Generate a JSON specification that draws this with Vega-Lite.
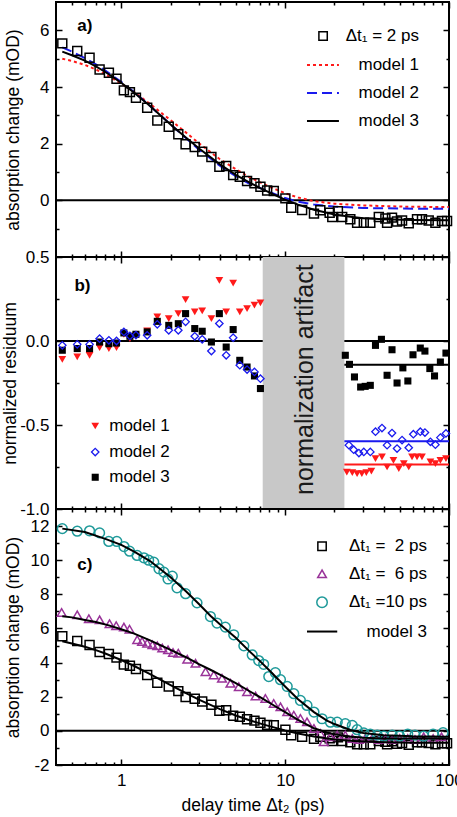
{
  "$schema": "https://vega.github.io/schema/vega-lite/v6.json",
  "padding": {"left": 0, "top": 0, "right": 0, "bottom": 0},
  "spacing": 0,
  "bounds": "flush",
  "config": {
    "font": "Liberation Sans",
    "view": {"stroke": "black", "strokeWidth": 2},
    "axis": {"domain": false, "grid": false, "tickColor": "black", "tickWidth": 1.5, "labelFont": "Liberation Sans", "labelFontSize": 17, "labelColor": "black", "titleFont": "Liberation Sans", "titleFontSize": 17.5, "titleFontWeight": "normal", "titleColor": "black"},
    "text": {"font": "Liberation Sans", "fontSize": 17, "color": "black", "baseline": "middle"}
  },
  "datasets": {
    "a2": [
      {"t":0.437,"v":5.54},{"t":0.539,"v":5.27},{"t":0.641,"v":5.03},{"t":0.738,"v":4.62},{"t":0.841,"v":4.5},{"t":0.936,"v":4.29},{"t":1.038,"v":3.88},{"t":1.13,"v":3.82},{"t":1.23,"v":3.62},{"t":1.44,"v":3.27},{"t":1.66,"v":2.82},{"t":1.95,"v":2.6},{"t":2.23,"v":2.33},{"t":2.47,"v":1.98},{"t":2.81,"v":1.88},{"t":3.12,"v":1.72},{"t":3.55,"v":1.53},{"t":3.97,"v":1.18},{"t":4.37,"v":1.21},{"t":4.82,"v":0.89},{"t":5.29,"v":0.83},{"t":5.86,"v":0.68},{"t":6.5,"v":0.6},{"t":7.07,"v":0.48},{"t":7.77,"v":0.35},{"t":8.53,"v":0.33},{"t":10.04,"v":0.07},{"t":10.9,"v":-0.26},{"t":12.7,"v":-0.34},{"t":15.0,"v":-0.47},{"t":16.4,"v":-0.35},{"t":18.7,"v":-0.44},{"t":19.4,"v":-0.59},{"t":21.0,"v":-0.38},{"t":22.3,"v":-0.59},{"t":25.0,"v":-0.67},{"t":27.5,"v":-0.79},{"t":30.2,"v":-0.79},{"t":33.1,"v":-0.79},{"t":37.3,"v":-0.59},{"t":40.9,"v":-0.64},{"t":41.9,"v":-0.79},{"t":44.9,"v":-0.61},{"t":48.2,"v":-0.75},{"t":51.7,"v":-0.71},{"t":56.8,"v":-0.81},{"t":63.8,"v":-0.67},{"t":68.4,"v":-0.67},{"t":75.2,"v":-0.71},{"t":82.6,"v":-0.79},{"t":90.6,"v":-0.73},{"t":97.3,"v":-0.73}
    ],
    "ma": [
      {"s":"model 1","t":0.437,"v":5.0},{"s":"model 1","t":0.5,"v":4.92},{"s":"model 1","t":0.6,"v":4.78},{"s":"model 1","t":0.7,"v":4.62},{"s":"model 1","t":0.8,"v":4.45},{"s":"model 1","t":1.0,"v":4.12},{"s":"model 1","t":1.2,"v":3.82},{"s":"model 1","t":1.5,"v":3.4},{"s":"model 1","t":2.0,"v":2.83},{"s":"model 1","t":2.5,"v":2.38},{"s":"model 1","t":3.0,"v":2.0},{"s":"model 1","t":4.0,"v":1.45},{"s":"model 1","t":5.0,"v":1.1},{"s":"model 1","t":6.0,"v":0.83},{"s":"model 1","t":8.0,"v":0.48},{"s":"model 1","t":10,"v":0.25},{"s":"model 1","t":12,"v":0.1},{"s":"model 1","t":15,"v":-0.03},{"s":"model 1","t":20,"v":-0.12},{"s":"model 1","t":30,"v":-0.18},{"s":"model 1","t":50,"v":-0.22},{"s":"model 1","t":100,"v":-0.24},
      {"s":"model 2","t":0.437,"v":5.4},{"s":"model 2","t":0.5,"v":5.25},{"s":"model 2","t":0.6,"v":5.02},{"s":"model 2","t":0.7,"v":4.8},{"s":"model 2","t":0.8,"v":4.58},{"s":"model 2","t":1.0,"v":4.18},{"s":"model 2","t":1.2,"v":3.82},{"s":"model 2","t":1.5,"v":3.33},{"s":"model 2","t":2.0,"v":2.68},{"s":"model 2","t":2.5,"v":2.18},{"s":"model 2","t":3.0,"v":1.78},{"s":"model 2","t":4.0,"v":1.22},{"s":"model 2","t":5.0,"v":0.85},{"s":"model 2","t":6.0,"v":0.6},{"s":"model 2","t":8.0,"v":0.3},{"s":"model 2","t":10,"v":0.08},{"s":"model 2","t":12,"v":-0.05},{"s":"model 2","t":15,"v":-0.15},{"s":"model 2","t":20,"v":-0.22},{"s":"model 2","t":30,"v":-0.27},{"s":"model 2","t":50,"v":-0.29},{"s":"model 2","t":100,"v":-0.3},
      {"s":"model 3","t":0.437,"v":5.25},{"s":"model 3","t":0.5,"v":5.12},{"s":"model 3","t":0.6,"v":4.93},{"s":"model 3","t":0.7,"v":4.73},{"s":"model 3","t":0.8,"v":4.53},{"s":"model 3","t":0.9,"v":4.33},{"s":"model 3","t":1.0,"v":4.15},{"s":"model 3","t":1.2,"v":3.8},{"s":"model 3","t":1.5,"v":3.33},{"s":"model 3","t":2.0,"v":2.68},{"s":"model 3","t":2.5,"v":2.2},{"s":"model 3","t":3.0,"v":1.82},{"s":"model 3","t":4.0,"v":1.27},{"s":"model 3","t":5.0,"v":0.9},{"s":"model 3","t":6.0,"v":0.64},{"s":"model 3","t":7.0,"v":0.44},{"s":"model 3","t":8.0,"v":0.28},{"s":"model 3","t":10,"v":0.02},{"s":"model 3","t":12,"v":-0.15},{"s":"model 3","t":15,"v":-0.33},{"s":"model 3","t":20,"v":-0.5},{"s":"model 3","t":25,"v":-0.58},{"s":"model 3","t":30,"v":-0.63},{"s":"model 3","t":40,"v":-0.67},{"s":"model 3","t":60,"v":-0.69},{"s":"model 3","t":100,"v":-0.7}
    ],
    "res": [
      {"s":"model 1","t":0.437,"v":-0.109},{"s":"model 1","t":0.539,"v":-0.095},{"s":"model 1","t":0.641,"v":-0.085},{"s":"model 1","t":0.738,"v":-0.039},{"s":"model 1","t":0.841,"v":-0.045},{"s":"model 1","t":0.936,"v":-0.039},{"s":"model 1","t":1.038,"v":0.04},{"s":"model 1","t":1.13,"v":0.014},{"s":"model 1","t":1.23,"v":0.03},{"s":"model 1","t":1.44,"v":0.06},{"s":"model 1","t":1.66,"v":0.143},{"s":"model 1","t":1.95,"v":0.133},{"s":"model 1","t":2.23,"v":0.163},{"s":"model 1","t":2.47,"v":0.246},{"s":"model 1","t":2.81,"v":0.173},{"s":"model 1","t":3.12,"v":0.179},{"s":"model 1","t":3.55,"v":0.133},{"s":"model 1","t":3.97,"v":0.361},{"s":"model 1","t":4.37,"v":0.173},{"s":"model 1","t":4.82,"v":0.345},{"s":"model 1","t":5.29,"v":0.173},{"s":"model 1","t":5.86,"v":0.193},{"s":"model 1","t":6.5,"v":0.213},{"s":"model 1","t":7.07,"v":0.227},
      {"s":"model 1","t":23.8,"v":-0.78},{"s":"model 1","t":25.7,"v":-0.784},{"s":"model 1","t":27.5,"v":-0.79},{"s":"model 1","t":29.4,"v":-0.79},{"s":"model 1","t":31.3,"v":-0.784},{"s":"model 1","t":33.6,"v":-0.774},{"s":"model 1","t":35.6,"v":-0.7},{"s":"model 1","t":39.0,"v":-0.69},{"s":"model 1","t":41.9,"v":-0.75},{"s":"model 1","t":45.8,"v":-0.71},{"s":"model 1","t":49.4,"v":-0.76},{"s":"model 1","t":53.0,"v":-0.73},{"s":"model 1","t":56.8,"v":-0.75},{"s":"model 1","t":59.5,"v":-0.69},{"s":"model 1","t":63.8,"v":-0.69},{"s":"model 1","t":68.4,"v":-0.69},{"s":"model 1","t":77.0,"v":-0.72},{"s":"model 1","t":82.6,"v":-0.73},{"s":"model 1","t":88.6,"v":-0.71},{"s":"model 1","t":95.8,"v":-0.7},
      {"s":"model 2","t":0.437,"v":-0.026},{"s":"model 2","t":0.539,"v":-0.02},{"s":"model 2","t":0.641,"v":-0.02},{"s":"model 2","t":0.738,"v":0.014},{"s":"model 2","t":0.841,"v":0.004},{"s":"model 2","t":0.936,"v":0.0},{"s":"model 2","t":1.038,"v":0.054},{"s":"model 2","t":1.13,"v":0.03},{"s":"model 2","t":1.23,"v":0.035},{"s":"model 2","t":1.44,"v":0.034},{"s":"model 2","t":1.66,"v":0.099},{"s":"model 2","t":1.95,"v":0.064},{"s":"model 2","t":2.23,"v":0.064},{"s":"model 2","t":2.47,"v":0.114},{"s":"model 2","t":2.81,"v":0.028},{"s":"model 2","t":3.12,"v":0.01},{"s":"model 2","t":3.55,"v":-0.06},{"s":"model 2","t":3.97,"v":0.104},{"s":"model 2","t":4.37,"v":-0.085},{"s":"model 2","t":4.82,"v":0.02},{"s":"model 2","t":5.29,"v":-0.144},{"s":"model 2","t":5.86,"v":-0.17},{"s":"model 2","t":6.5,"v":-0.184},{"s":"model 2","t":7.07,"v":-0.224},
      {"s":"model 2","t":24.5,"v":-0.62},{"s":"model 2","t":26.2,"v":-0.647},{"s":"model 2","t":28.2,"v":-0.667},{"s":"model 2","t":30.2,"v":-0.66},{"s":"model 2","t":33.1,"v":-0.66},{"s":"model 2","t":35.6,"v":-0.54},{"s":"model 2","t":39.0,"v":-0.518},{"s":"model 2","t":41.9,"v":-0.62},{"s":"model 2","t":44.9,"v":-0.548},{"s":"model 2","t":48.2,"v":-0.64},{"s":"model 2","t":51.7,"v":-0.59},{"s":"model 2","t":56.8,"v":-0.635},{"s":"model 2","t":60.6,"v":-0.555},{"s":"model 2","t":66.8,"v":-0.54},{"s":"model 2","t":71.3,"v":-0.545},{"s":"model 2","t":77.0,"v":-0.6},{"s":"model 2","t":82.6,"v":-0.617},{"s":"model 2","t":88.6,"v":-0.575},{"s":"model 2","t":95.8,"v":-0.55},
      {"s":"model 3","t":0.437,"v":-0.055},{"s":"model 3","t":0.539,"v":-0.045},{"s":"model 3","t":0.641,"v":-0.045},{"s":"model 3","t":0.738,"v":-0.006},{"s":"model 3","t":0.841,"v":-0.016},{"s":"model 3","t":0.936,"v":-0.012},{"s":"model 3","t":1.038,"v":0.048},{"s":"model 3","t":1.13,"v":0.028},{"s":"model 3","t":1.23,"v":0.04},{"s":"model 3","t":1.44,"v":0.054},{"s":"model 3","t":1.66,"v":0.117},{"s":"model 3","t":1.95,"v":0.093},{"s":"model 3","t":2.23,"v":0.103},{"s":"model 3","t":2.47,"v":0.163},{"s":"model 3","t":2.81,"v":0.074},{"s":"model 3","t":3.12,"v":0.058},{"s":"model 3","t":3.55,"v":-0.006},{"s":"model 3","t":3.97,"v":0.163},{"s":"model 3","t":4.37,"v":-0.036},{"s":"model 3","t":4.82,"v":0.068},{"s":"model 3","t":5.29,"v":-0.115},{"s":"model 3","t":5.86,"v":-0.155},{"s":"model 3","t":6.5,"v":-0.208},{"s":"model 3","t":7.07,"v":-0.283},
      {"s":"model 3","t":23.3,"v":-0.085},{"s":"model 3","t":24.7,"v":-0.139},{"s":"model 3","t":26.5,"v":-0.214},{"s":"model 3","t":28.9,"v":-0.274},{"s":"model 3","t":30.8,"v":-0.27},{"s":"model 3","t":33.1,"v":-0.264},{"s":"model 3","t":35.6,"v":-0.026},{"s":"model 3","t":38.7,"v":0.01},{"s":"model 3","t":41.9,"v":-0.204},{"s":"model 3","t":44.9,"v":-0.052},{"s":"model 3","t":48.2,"v":-0.25},{"s":"model 3","t":52.3,"v":-0.16},{"s":"model 3","t":56.1,"v":-0.238},{"s":"model 3","t":60.3,"v":-0.082},{"s":"model 3","t":66.8,"v":-0.042},{"s":"model 3","t":71.3,"v":-0.06},{"s":"model 3","t":76.4,"v":-0.164},{"s":"model 3","t":81.6,"v":-0.208},{"s":"model 3","t":88.6,"v":-0.125},{"s":"model 3","t":95.8,"v":-0.072}
    ],
    "c6": [
      {"t":0.433,"v":6.94},{"t":0.539,"v":6.8},{"t":0.635,"v":6.57},{"t":0.738,"v":6.51},{"t":0.849,"v":6.28},{"t":0.932,"v":6.16},{"t":1.038,"v":6.08},{"t":1.124,"v":5.96},{"t":1.252,"v":5.34},{"t":1.34,"v":5.24},{"t":1.44,"v":5.14},{"t":1.55,"v":5.04},{"t":1.66,"v":4.98},{"t":1.78,"v":4.85},{"t":1.93,"v":4.75},{"t":2.07,"v":4.59},{"t":2.23,"v":4.55},{"t":2.53,"v":4.2},{"t":2.84,"v":3.96},{"t":3.27,"v":3.47},{"t":3.67,"v":3.28},{"t":4.12,"v":3.08},{"t":4.64,"v":2.79},{"t":5.22,"v":2.59},{"t":5.86,"v":2.29},{"t":6.6,"v":2.04},{"t":7.58,"v":1.9},{"t":8.52,"v":1.61},{"t":9.37,"v":1.41},{"t":10.3,"v":1.12},{"t":11.3,"v":0.92},{"t":12.4,"v":0.73},{"t":13.6,"v":0.53},{"t":15.0,"v":0.14},{"t":16.4,"v":-0.15},{"t":17.2,"v":-0.64},{"t":18.9,"v":-0.35},{"t":20.8,"v":-0.25},{"t":23.3,"v":-0.25},{"t":25.7,"v":-0.45},{"t":28.2,"v":-0.51},{"t":30.8,"v":-0.45},{"t":33.9,"v":-0.45},{"t":37.3,"v":-0.51},{"t":41.0,"v":-0.45},{"t":45.0,"v":-0.51},{"t":50.0,"v":-0.45},{"t":56.0,"v":-0.45},{"t":62.0,"v":-0.51},{"t":70.0,"v":-0.35},{"t":80.0,"v":-0.45},{"t":90.0,"v":-0.35}
    ],
    "c10": [
      {"t":0.437,"v":11.85},{"t":0.539,"v":11.7},{"t":0.641,"v":11.72},{"t":0.738,"v":11.6},{"t":0.84,"v":11.1},{"t":0.94,"v":11.1},{"t":1.04,"v":10.8},{"t":1.124,"v":10.53},{"t":1.25,"v":10.28},{"t":1.375,"v":10.14},{"t":1.47,"v":10.0},{"t":1.58,"v":9.88},{"t":1.7,"v":9.5},{"t":1.82,"v":9.3},{"t":1.93,"v":8.9},{"t":2.05,"v":9.06},{"t":2.19,"v":8.38},{"t":2.47,"v":8.04},{"t":2.9,"v":7.5},{"t":3.5,"v":6.7},{"t":3.84,"v":6.32},{"t":4.32,"v":6.08},{"t":4.86,"v":5.63},{"t":5.6,"v":4.98},{"t":6.3,"v":4.45},{"t":6.9,"v":4.12},{"t":7.4,"v":3.9},{"t":7.95,"v":3.18},{"t":8.72,"v":3.41},{"t":9.37,"v":3.0},{"t":10.3,"v":2.6},{"t":11.3,"v":2.18},{"t":12.4,"v":1.78},{"t":13.6,"v":1.49},{"t":15.0,"v":1.1},{"t":16.8,"v":0.71},{"t":18.9,"v":0.51},{"t":20.8,"v":0.51},{"t":23.3,"v":0.42},{"t":25.7,"v":0.32},{"t":27.5,"v":0.07},{"t":30.2,"v":-0.12},{"t":33.1,"v":-0.19},{"t":36.5,"v":-0.25},{"t":40.0,"v":-0.31},{"t":45.0,"v":-0.25},{"t":50.0,"v":-0.31},{"t":56.0,"v":-0.19},{"t":62.0,"v":-0.25},{"t":70.0,"v":-0.31},{"t":80.0,"v":-0.19},{"t":92.0,"v":-0.11}
    ],
    "mc": [
      {"c":"2","t":0.437,"v":5.25},{"c":"2","t":0.5,"v":5.12},{"c":"2","t":0.6,"v":4.93},{"c":"2","t":0.7,"v":4.73},{"c":"2","t":0.8,"v":4.53},{"c":"2","t":0.9,"v":4.33},{"c":"2","t":1.0,"v":4.15},{"c":"2","t":1.2,"v":3.8},{"c":"2","t":1.5,"v":3.33},{"c":"2","t":2.0,"v":2.68},{"c":"2","t":2.5,"v":2.2},{"c":"2","t":3.0,"v":1.82},{"c":"2","t":4.0,"v":1.27},{"c":"2","t":5.0,"v":0.9},{"c":"2","t":6.0,"v":0.64},{"c":"2","t":7.0,"v":0.44},{"c":"2","t":8.0,"v":0.28},{"c":"2","t":10,"v":0.02},{"c":"2","t":12,"v":-0.15},{"c":"2","t":15,"v":-0.33},{"c":"2","t":20,"v":-0.5},{"c":"2","t":25,"v":-0.58},{"c":"2","t":30,"v":-0.63},{"c":"2","t":40,"v":-0.67},{"c":"2","t":60,"v":-0.69},{"c":"2","t":100,"v":-0.7},
      {"c":"6","t":0.437,"v":6.72},{"c":"6","t":0.5,"v":6.65},{"c":"6","t":0.6,"v":6.5},{"c":"6","t":0.7,"v":6.38},{"c":"6","t":0.84,"v":6.18},{"c":"6","t":1.0,"v":5.95},{"c":"6","t":1.2,"v":5.7},{"c":"6","t":1.5,"v":5.3},{"c":"6","t":2.0,"v":4.75},{"c":"6","t":2.5,"v":4.3},{"c":"6","t":3.0,"v":3.9},{"c":"6","t":3.5,"v":3.58},{"c":"6","t":4.0,"v":3.3},{"c":"6","t":5.0,"v":2.8},{"c":"6","t":6.0,"v":2.35},{"c":"6","t":7.25,"v":1.9},{"c":"6","t":8.5,"v":1.5},{"c":"6","t":10,"v":1.1},{"c":"6","t":12,"v":0.65},{"c":"6","t":15,"v":0.15},{"c":"6","t":18,"v":-0.1},{"c":"6","t":20,"v":-0.2},{"c":"6","t":25,"v":-0.33},{"c":"6","t":30,"v":-0.4},{"c":"6","t":40,"v":-0.44},{"c":"6","t":60,"v":-0.45},{"c":"6","t":100,"v":-0.45},
      {"c":"10","t":0.437,"v":11.85},{"c":"10","t":0.6,"v":11.65},{"c":"10","t":0.8,"v":11.25},{"c":"10","t":1.0,"v":10.9},{"c":"10","t":1.2,"v":10.5},{"c":"10","t":1.5,"v":9.95},{"c":"10","t":2.0,"v":9.0},{"c":"10","t":2.5,"v":8.15},{"c":"10","t":3.0,"v":7.4},{"c":"10","t":3.5,"v":6.75},{"c":"10","t":4.0,"v":6.25},{"c":"10","t":5.0,"v":5.45},{"c":"10","t":6.0,"v":4.7},{"c":"10","t":7.0,"v":4.1},{"c":"10","t":8.0,"v":3.55},{"c":"10","t":10,"v":2.6},{"c":"10","t":12,"v":1.85},{"c":"10","t":15,"v":1.1},{"c":"10","t":18,"v":0.6},{"c":"10","t":20,"v":0.4},{"c":"10","t":25,"v":0.05},{"c":"10","t":30,"v":-0.12},{"c":"10","t":40,"v":-0.25},{"c":"10","t":60,"v":-0.32},{"c":"10","t":100,"v":-0.35}
    ]
  },
  "vconcat": [
    {
      "width": 393, "height": 255,
      "data": {"values": [{}]},
      "resolve": {"axis": {"x": "independent", "y": "independent"}},
      "layer": [
        {"mark": {"type": "rule", "color": "black", "strokeWidth": 2},
         "encoding": {
           "x": {"datum": 0.4, "type": "quantitative", "scale": {"type": "log", "domain": [0.4, 100], "nice": false},
                 "axis": {"orient": "bottom", "values": [0.5,0.6,0.7,0.8,0.9,2,3,4,5,6,7,8,9,20,30,40,50,60,70,80,90], "tickSize": -3, "labels": false, "title": null}},
           "x2": {"datum": 100},
           "y": {"datum": 0, "type": "quantitative", "scale": {"domain": [-2, 7], "nice": false},
                 "axis": {"orient": "right", "values": [-1,1,3,5], "tickSize": -3, "labels": false, "title": null}}}},
        {"data": {"name": "ma"}, "transform": [{"filter": "datum.s == 'model 1'"}],
         "mark": {"type": "line", "strokeWidth": 2, "color": "#ff1a1a", "strokeDash": [3, 3]},
         "encoding": {
           "x": {"field": "t", "type": "quantitative", "scale": {"type": "log", "domain": [0.4, 100], "nice": false},
                 "axis": {"orient": "top", "values": [1,10,100], "tickSize": -6, "labels": false, "title": null}},
           "y": {"field": "v", "type": "quantitative", "scale": {"domain": [-2, 7], "nice": false},
                 "axis": {"orient": "right", "values": [0,2,4,6], "tickSize": -6, "labels": false, "title": null}}}},
        {"data": {"name": "ma"}, "transform": [{"filter": "datum.s == 'model 2'"}],
         "mark": {"type": "line", "strokeWidth": 2, "color": "#1a1aee", "strokeDash": [10, 5]},
         "encoding": {
           "x": {"field": "t", "type": "quantitative", "scale": {"type": "log", "domain": [0.4, 100], "nice": false}, "axis": null},
           "y": {"field": "v", "type": "quantitative", "scale": {"domain": [-2, 7], "nice": false}, "axis": null}}},
        {"data": {"name": "ma"}, "transform": [{"filter": "datum.s == 'model 3'"}],
         "mark": {"type": "line", "strokeWidth": 2, "color": "black"},
         "encoding": {
           "x": {"field": "t", "type": "quantitative", "scale": {"type": "log", "domain": [0.4, 100], "nice": false}, "axis": null},
           "y": {"field": "v", "type": "quantitative", "scale": {"domain": [-2, 7], "nice": false}, "axis": null}}},
        {"data": {"name": "a2"},
         "mark": {"type": "point", "shape": "square", "size": 80, "filled": false, "strokeWidth": 1.5, "opacity": 1, "color": "black"},
         "encoding": {
           "x": {"field": "t", "type": "quantitative", "scale": {"type": "log", "domain": [0.4, 100], "nice": false},
                 "axis": {"orient": "bottom", "values": [1,10,100], "tickSize": -6, "labels": false, "title": null}},
           "y": {"field": "v", "type": "quantitative", "scale": {"domain": [-2, 7], "nice": false},
                 "axis": {"orient": "left", "values": [0,2,4,6], "tickSize": -6, "labelPadding": 13, "title": "absorption change (mOD)", "titlePadding": 17}}}},
        {"mark": {"type": "text", "fontWeight": "bold", "align": "center"},
         "encoding": {
           "x": {"datum": 0.6, "type": "quantitative", "axis": null},
           "y": {"datum": 6.15, "type": "quantitative", "axis": null},
           "text": {"value": "a)"}}},
        {"mark": {"type": "point", "shape": "square", "size": 70, "filled": false, "strokeWidth": 1.5, "opacity": 1, "color": "black"},
         "encoding": {
           "x": {"datum": 17.05, "type": "quantitative", "scale": {"type": "log", "domain": [0.4, 100], "nice": false},
                 "axis": {"orient": "top", "values": [0.5,0.6,0.7,0.8,0.9,2,3,4,5,6,7,8,9,20,30,40,50,60,70,80,90], "tickSize": -3, "labels": false, "title": null}},
           "y": {"datum": 5.8, "type": "quantitative", "scale": {"domain": [-2, 7], "nice": false},
                 "axis": {"orient": "left", "values": [-1,1,3,5], "tickSize": -3, "labels": false, "title": null}}}},
        {"mark": {"type": "rule", "strokeWidth": 2, "color": "#ff1a1a", "strokeDash": [3, 3]},
         "encoding": {"x": {"datum": 13.6, "type": "quantitative", "axis": null}, "x2": {"datum": 21.3}, "y": {"datum": 4.776, "type": "quantitative", "axis": null}}},
        {"mark": {"type": "rule", "strokeWidth": 2, "color": "#1a1aee", "strokeDash": [10, 5]},
         "encoding": {"x": {"datum": 13.6, "type": "quantitative", "axis": null}, "x2": {"datum": 21.3}, "y": {"datum": 3.79, "type": "quantitative", "axis": null}}},
        {"mark": {"type": "rule", "strokeWidth": 2, "color": "black"},
         "encoding": {"x": {"datum": 13.6, "type": "quantitative", "axis": null}, "x2": {"datum": 21.3}, "y": {"datum": 2.8, "type": "quantitative", "axis": null}}},
        {"mark": {"type": "text", "align": "right"},
         "encoding": {"x": {"datum": 65.6, "type": "quantitative", "axis": null}, "y": {"datum": 5.8, "type": "quantitative", "axis": null}, "text": {"value": "Δt₁ = 2 ps"}}},
        {"mark": {"type": "text", "align": "right"},
         "encoding": {"x": {"datum": 65.6, "type": "quantitative", "axis": null}, "y": {"datum": 4.776, "type": "quantitative", "axis": null}, "text": {"value": "model 1"}}},
        {"mark": {"type": "text", "align": "right"},
         "encoding": {"x": {"datum": 65.6, "type": "quantitative", "axis": null}, "y": {"datum": 3.79, "type": "quantitative", "axis": null}, "text": {"value": "model 2"}}},
        {"mark": {"type": "text", "align": "right"},
         "encoding": {"x": {"datum": 65.6, "type": "quantitative", "axis": null}, "y": {"datum": 2.8, "type": "quantitative", "axis": null}, "text": {"value": "model 3"}}}
      ]
    },
    {
      "width": 393, "height": 252,
      "data": {"values": [{}]},
      "resolve": {"axis": {"x": "independent", "y": "independent"}},
      "layer": [
        {"mark": {"type": "rule", "color": "black", "strokeWidth": 2},
         "encoding": {
           "x": {"datum": 0.4, "type": "quantitative", "scale": {"type": "log", "domain": [0.4, 100], "nice": false},
                 "axis": {"orient": "bottom", "values": [0.5,0.6,0.7,0.8,0.9,2,3,4,5,6,7,8,9,20,30,40,50,60,70,80,90], "tickSize": -3, "labels": false, "title": null}},
           "x2": {"datum": 100},
           "y": {"datum": 0, "type": "quantitative", "scale": {"domain": [-1, 0.5], "nice": false},
                 "axis": {"orient": "right", "values": [-0.75,-0.25,0.25], "tickSize": -3, "labels": false, "title": null}}}},
        {"mark": {"type": "rect", "color": "#c8c8c8"},
         "encoding": {
           "x": {"datum": 7.3, "type": "quantitative", "scale": {"type": "log", "domain": [0.4, 100], "nice": false},
                 "axis": {"orient": "top", "values": [1,10,100], "tickSize": -6, "labels": false, "title": null}},
           "x2": {"datum": 23},
           "y": {"datum": 0.5, "type": "quantitative", "scale": {"domain": [-1, 0.5], "nice": false},
                 "axis": {"orient": "right", "values": [-1,-0.5,0,0.5], "tickSize": -6, "labels": false, "title": null}},
           "y2": {"datum": -1}}},
        {"mark": {"type": "text", "angle": 270, "fontSize": 25, "color": "#1a1a1a"},
         "encoding": {
           "x": {"datum": 13.2, "type": "quantitative", "scale": {"type": "log", "domain": [0.4, 100], "nice": false},
                 "axis": {"orient": "top", "values": [0.5,0.6,0.7,0.8,0.9,2,3,4,5,6,7,8,9,20,30,40,50,60,70,80,90], "tickSize": -3, "labels": false, "title": null}},
           "y": {"datum": -0.23, "type": "quantitative", "scale": {"domain": [-1, 0.5], "nice": false},
                 "axis": {"orient": "left", "values": [-0.75,-0.25,0.25], "tickSize": -3, "labels": false, "title": null}},
           "text": {"value": "normalization artifact"}}},
        {"mark": {"type": "rule", "color": "black", "strokeWidth": 2},
         "encoding": {"x": {"datum": 23, "type": "quantitative", "axis": null}, "x2": {"datum": 100}, "y": {"datum": -0.141, "type": "quantitative", "axis": null}}},
        {"mark": {"type": "rule", "color": "#1a1aee", "strokeWidth": 2},
         "encoding": {"x": {"datum": 23, "type": "quantitative", "axis": null}, "x2": {"datum": 100}, "y": {"datum": -0.597, "type": "quantitative", "axis": null}}},
        {"mark": {"type": "rule", "color": "#ff1a1a", "strokeWidth": 2},
         "encoding": {"x": {"datum": 23, "type": "quantitative", "axis": null}, "x2": {"datum": 100}, "y": {"datum": -0.735, "type": "quantitative", "axis": null}}},
        {"data": {"name": "res"}, "transform": [{"filter": "datum.s == 'model 1'"}],
         "mark": {"type": "point", "shape": "triangle-down", "size": 60, "filled": true, "opacity": 1, "color": "#ff1a1a"},
         "encoding": {
           "x": {"field": "t", "type": "quantitative", "scale": {"type": "log", "domain": [0.4, 100], "nice": false}, "axis": null},
           "y": {"field": "v", "type": "quantitative", "scale": {"domain": [-1, 0.5], "nice": false}, "axis": null}}},
        {"data": {"name": "res"}, "transform": [{"filter": "datum.s == 'model 3'"}],
         "mark": {"type": "point", "shape": "square", "size": 50, "filled": true, "opacity": 1, "color": "black"},
         "encoding": {
           "x": {"field": "t", "type": "quantitative", "scale": {"type": "log", "domain": [0.4, 100], "nice": false},
                 "axis": {"orient": "bottom", "values": [1,10,100], "tickSize": -6, "labels": false, "title": null}},
           "y": {"field": "v", "type": "quantitative", "scale": {"domain": [-1, 0.5], "nice": false},
                 "axis": {"orient": "left", "values": [-1,-0.5,0,0.5], "tickSize": -6, "labelExpr": "replace(format(datum.value, '.1f'), '−', '-')", "labelPadding": 13, "title": "normalized residuum", "titlePadding": 0}}}},
        {"data": {"name": "res"}, "transform": [{"filter": "datum.s == 'model 2'"}],
         "mark": {"type": "point", "shape": "diamond", "size": 55, "filled": false, "strokeWidth": 1.3, "opacity": 1, "color": "#1a1aee"},
         "encoding": {
           "x": {"field": "t", "type": "quantitative", "scale": {"type": "log", "domain": [0.4, 100], "nice": false}, "axis": null},
           "y": {"field": "v", "type": "quantitative", "scale": {"domain": [-1, 0.5], "nice": false}, "axis": null}}},
        {"mark": {"type": "text", "fontWeight": "bold", "align": "center"},
         "encoding": {"x": {"datum": 0.58, "type": "quantitative", "axis": null}, "y": {"datum": 0.33, "type": "quantitative", "axis": null}, "text": {"value": "b)"}}},
        {"mark": {"type": "point", "shape": "triangle-down", "size": 60, "filled": true, "opacity": 1, "color": "#ff1a1a"},
         "encoding": {"x": {"datum": 0.694, "type": "quantitative", "axis": null}, "y": {"datum": -0.506, "type": "quantitative", "axis": null}}},
        {"mark": {"type": "point", "shape": "diamond", "size": 55, "filled": false, "strokeWidth": 1.3, "opacity": 1, "color": "#1a1aee"},
         "encoding": {"x": {"datum": 0.694, "type": "quantitative", "axis": null}, "y": {"datum": -0.661, "type": "quantitative", "axis": null}}},
        {"mark": {"type": "point", "shape": "square", "size": 50, "filled": true, "opacity": 1, "color": "black"},
         "encoding": {"x": {"datum": 0.694, "type": "quantitative", "axis": null}, "y": {"datum": -0.811, "type": "quantitative", "axis": null}}},
        {"mark": {"type": "text", "align": "left"},
         "encoding": {"x": {"datum": 0.845, "type": "quantitative", "axis": null}, "y": {"datum": -0.506, "type": "quantitative", "axis": null}, "text": {"value": "model 1"}}},
        {"mark": {"type": "text", "align": "left"},
         "encoding": {"x": {"datum": 0.845, "type": "quantitative", "axis": null}, "y": {"datum": -0.661, "type": "quantitative", "axis": null}, "text": {"value": "model 2"}}},
        {"mark": {"type": "text", "align": "left"},
         "encoding": {"x": {"datum": 0.845, "type": "quantitative", "axis": null}, "y": {"datum": -0.811, "type": "quantitative", "axis": null}, "text": {"value": "model 3"}}}
      ]
    },
    {
      "width": 393, "height": 256,
      "data": {"values": [{}]},
      "resolve": {"axis": {"x": "independent", "y": "independent"}},
      "layer": [
        {"mark": {"type": "rule", "color": "black", "strokeWidth": 2},
         "encoding": {
           "x": {"datum": 0.4, "type": "quantitative", "scale": {"type": "log", "domain": [0.4, 100], "nice": false},
                 "axis": {"orient": "top", "values": [0.5,0.6,0.7,0.8,0.9,2,3,4,5,6,7,8,9,20,30,40,50,60,70,80,90], "tickSize": -3, "labels": false, "title": null}},
           "x2": {"datum": 100},
           "y": {"datum": 0, "type": "quantitative", "scale": {"domain": [-2, 13], "nice": false},
                 "axis": {"orient": "right", "values": [-1,1,3,5,7,9,11], "tickSize": -3, "labels": false, "title": null}}}},
        {"data": {"name": "a2"},
         "mark": {"type": "point", "shape": "square", "size": 80, "filled": false, "strokeWidth": 1.5, "opacity": 1, "color": "black"},
         "encoding": {
           "x": {"field": "t", "type": "quantitative", "scale": {"type": "log", "domain": [0.4, 100], "nice": false},
                 "axis": {"orient": "bottom", "values": [1,10,100], "tickSize": -6, "labelFlush": false, "labelOverlap": false, "labelPadding": 13, "title": "delay time Δt₂ (ps)", "titlePadding": 8}},
           "y": {"field": "v", "type": "quantitative", "scale": {"domain": [-2, 13], "nice": false},
                 "axis": {"orient": "left", "values": [-2,0,2,4,6,8,10,12], "tickSize": -6, "labelExpr": "replace(datum.label, '−', '-')", "labelPadding": 13, "title": "absorption change (mOD)", "titlePadding": 7.5}}}},
        {"data": {"name": "c6"},
         "mark": {"type": "point", "shape": "triangle-up", "size": 75, "filled": false, "strokeWidth": 1.5, "opacity": 1, "color": "#993399"},
         "encoding": {
           "x": {"field": "t", "type": "quantitative", "scale": {"type": "log", "domain": [0.4, 100], "nice": false},
                 "axis": {"orient": "bottom", "values": [0.5,0.6,0.7,0.8,0.9,2,3,4,5,6,7,8,9,20,30,40,50,60,70,80,90], "tickSize": -3, "labels": false, "title": null}},
           "y": {"field": "v", "type": "quantitative", "scale": {"domain": [-2, 13], "nice": false},
                 "axis": {"orient": "left", "values": [-1,1,3,5,7,9,11], "tickSize": -3, "labels": false, "title": null}}}},
        {"data": {"name": "c10"},
         "mark": {"type": "point", "shape": "circle", "size": 95, "filled": false, "strokeWidth": 1.5, "opacity": 1, "color": "#1f9a9a"},
         "encoding": {
           "x": {"field": "t", "type": "quantitative", "scale": {"type": "log", "domain": [0.4, 100], "nice": false}, "axis": null},
           "y": {"field": "v", "type": "quantitative", "scale": {"domain": [-2, 13], "nice": false}, "axis": null}}},
        {"data": {"name": "mc"},
         "mark": {"type": "line", "strokeWidth": 2, "color": "black"},
         "encoding": {
           "x": {"field": "t", "type": "quantitative", "scale": {"type": "log", "domain": [0.4, 100], "nice": false},
                 "axis": {"orient": "top", "values": [1,10,100], "tickSize": -6, "labels": false, "title": null}},
           "y": {"field": "v", "type": "quantitative", "scale": {"domain": [-2, 13], "nice": false},
                 "axis": {"orient": "right", "values": [0,2,4,6,8,10,12], "tickSize": -6, "labels": false, "title": null}},
           "detail": {"field": "c", "type": "nominal"}}},
        {"mark": {"type": "text", "fontWeight": "bold", "align": "center"},
         "encoding": {"x": {"datum": 0.6, "type": "quantitative", "axis": null}, "y": {"datum": 9.69, "type": "quantitative", "axis": null}, "text": {"value": "c)"}}},
        {"mark": {"type": "point", "shape": "square", "size": 70, "filled": false, "strokeWidth": 1.5, "opacity": 1, "color": "black"},
         "encoding": {"x": {"datum": 16.8, "type": "quantitative", "axis": null}, "y": {"datum": 10.82, "type": "quantitative", "axis": null}}},
        {"mark": {"type": "point", "shape": "triangle-up", "size": 75, "filled": false, "strokeWidth": 1.5, "opacity": 1, "color": "#993399"},
         "encoding": {"x": {"datum": 16.8, "type": "quantitative", "axis": null}, "y": {"datum": 9.2, "type": "quantitative", "axis": null}}},
        {"mark": {"type": "point", "shape": "circle", "size": 110, "filled": false, "strokeWidth": 1.5, "opacity": 1, "color": "#1f9a9a"},
         "encoding": {"x": {"datum": 16.8, "type": "quantitative", "axis": null}, "y": {"datum": 7.53, "type": "quantitative", "axis": null}}},
        {"mark": {"type": "rule", "strokeWidth": 2, "color": "black"},
         "encoding": {"x": {"datum": 13.6, "type": "quantitative", "axis": null}, "x2": {"datum": 20.8}, "y": {"datum": 5.82, "type": "quantitative", "axis": null}}},
        {"mark": {"type": "text", "align": "right"},
         "encoding": {"x": {"datum": 73.4, "type": "quantitative", "axis": null}, "y": {"datum": 10.82, "type": "quantitative", "axis": null}, "text": {"value": "Δt₁ =\u00a0\u00a02 ps"}}},
        {"mark": {"type": "text", "align": "right"},
         "encoding": {"x": {"datum": 73.4, "type": "quantitative", "axis": null}, "y": {"datum": 9.2, "type": "quantitative", "axis": null}, "text": {"value": "Δt₁ =\u00a0\u00a06 ps"}}},
        {"mark": {"type": "text", "align": "right"},
         "encoding": {"x": {"datum": 73.4, "type": "quantitative", "axis": null}, "y": {"datum": 7.53, "type": "quantitative", "axis": null}, "text": {"value": "Δt₁ =10 ps"}}},
        {"mark": {"type": "text", "align": "right"},
         "encoding": {"x": {"datum": 73.4, "type": "quantitative", "axis": null}, "y": {"datum": 5.82, "type": "quantitative", "axis": null}, "text": {"value": "model 3"}}}
      ]
    }
  ]
}
